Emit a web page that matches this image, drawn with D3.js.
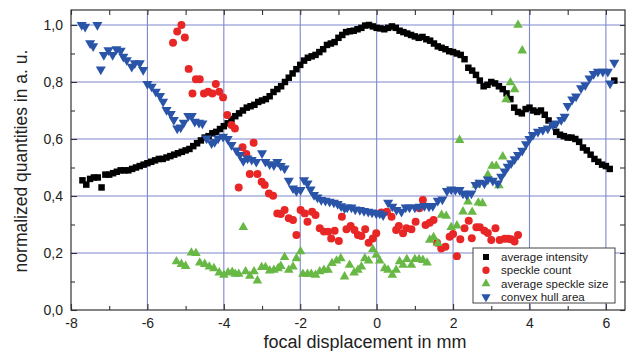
<!doctype html>
<html>
<head>
<meta charset="utf-8">
<script src="https://d3js.org/d3.v7.min.js"></script>
<style>
body { margin: 0; background: #fff; }
text { font-family: "Liberation Sans", Arial, sans-serif; }
</style>
</head>
<body>
<svg width="628" height="351"></svg>
<script>
// data: [focal displacement (mm), normalized value]
var avgIntensity = [
  [-7.7,0.455],[-7.6,0.44],[-7.5,0.46],[-7.4,0.465],[-7.3,0.465],[-7.2,0.43],[-7.1,0.475],[-7.0,0.475],
  [-6.9,0.48],[-6.8,0.485],[-6.7,0.49],[-6.6,0.49],[-6.5,0.49],[-6.4,0.495],[-6.3,0.5],[-6.2,0.505],
  [-6.1,0.51],[-6.0,0.515],[-5.9,0.52],[-5.8,0.525],[-5.7,0.53],[-5.6,0.53],[-5.5,0.535],[-5.4,0.54],
  [-5.3,0.545],[-5.2,0.55],[-5.1,0.555],[-5.0,0.56],[-4.9,0.565],[-4.8,0.575],[-4.7,0.585],[-4.6,0.595],
  [-4.5,0.605],[-4.4,0.61],[-4.3,0.62],[-4.2,0.625],[-4.1,0.635],[-4.0,0.645],[-3.9,0.655],[-3.8,0.67],
  [-3.7,0.68],[-3.6,0.69],[-3.5,0.70],[-3.4,0.71],[-3.3,0.715],[-3.2,0.72],[-3.1,0.73],[-3.0,0.735],
  [-2.9,0.74],[-2.8,0.75],[-2.7,0.765],[-2.6,0.775],[-2.5,0.785],[-2.4,0.80],[-2.3,0.815],[-2.2,0.83],
  [-2.1,0.845],[-2.0,0.86],[-1.9,0.875],[-1.8,0.885],[-1.7,0.89],[-1.6,0.895],[-1.5,0.905],[-1.4,0.915],
  [-1.3,0.93],[-1.2,0.935],[-1.1,0.94],[-1.0,0.955],[-0.9,0.965],[-0.8,0.975],[-0.7,0.978],[-0.6,0.98],
  [-0.5,0.985],[-0.4,0.99],[-0.3,0.998],[-0.2,1.0],[-0.1,0.995],[0.0,0.99],[0.1,0.988],[0.2,0.985],
  [0.3,0.99],[0.4,0.995],[0.5,0.99],[0.6,0.98],[0.7,0.975],[0.8,0.97],[0.9,0.965],[1.0,0.96],
  [1.1,0.955],[1.2,0.958],[1.3,0.95],[1.4,0.945],[1.5,0.935],[1.6,0.925],[1.7,0.92],[1.8,0.915],
  [1.9,0.908],[2.0,0.905],[2.1,0.90],[2.2,0.895],[2.3,0.88],[2.4,0.85],[2.5,0.84],[2.6,0.825],
  [2.7,0.805],[2.8,0.785],[2.9,0.79],[3.0,0.80],[3.1,0.795],[3.2,0.785],[3.3,0.775],[3.4,0.76],
  [3.5,0.74],[3.6,0.71],[3.7,0.695],[3.8,0.69],[3.9,0.705],[4.0,0.71],[4.1,0.70],[4.2,0.695],
  [4.3,0.70],[4.4,0.685],[4.5,0.665],[4.6,0.65],[4.7,0.625],[4.8,0.615],[4.9,0.61],[5.0,0.605],
  [5.1,0.605],[5.2,0.60],[5.3,0.59],[5.4,0.57],[5.5,0.56],[5.6,0.545],[5.7,0.53],[5.8,0.52],
  [5.9,0.51],[6.0,0.505],[6.1,0.495],[6.22,0.805]
];

var speckleCount = [
  [-5.33,0.938],[-5.22,0.977],[-5.11,1.0],[-5.02,0.956],[-4.92,0.846],[-4.82,0.76],[-4.73,0.81],[-4.63,0.81],
  [-4.52,0.76],[-4.41,0.766],[-4.30,0.76],[-4.21,0.793],[-4.12,0.766],[-4.02,0.746],[-3.91,0.684],[-3.80,0.649],
  [-3.71,0.637],[-3.61,0.43],[-3.51,0.571],[-3.41,0.547],[-3.32,0.477],[-3.22,0.587],[-3.12,0.477],[-3.01,0.45],
  [-2.93,0.439],[-2.82,0.409],[-2.71,0.401],[-2.60,0.339],[-2.51,0.337],[-2.41,0.351],[-2.30,0.322],[-2.19,0.316],
  [-2.10,0.263],[-1.99,0.351],[-1.88,0.339],[-1.81,0.31],[-1.69,0.345],[-1.60,0.333],[-1.49,0.287],[-1.38,0.275],
  [-1.27,0.275],[-1.19,0.251],[-1.10,0.278],[-0.99,0.242],[-0.91,0.327],[-0.79,0.283],[-0.68,0.295],[-0.58,0.281],
  [-0.49,0.263],[-0.40,0.26],[-0.30,0.283],[-0.21,0.236],[-0.10,0.251],[-0.01,0.269],[0.12,0.342],[0.27,0.345],
  [0.39,0.327],[0.51,0.281],[0.58,0.295],[0.69,0.269],[0.78,0.287],[0.91,0.283],[1.02,0.31],[1.12,0.357],
  [1.21,0.386],[1.28,0.298],[1.39,0.306],[1.49,0.316],[1.58,0.236],[1.69,0.216],[1.80,0.222],[1.91,0.257],
  [2.0,0.267],[2.10,0.189],[2.19,0.248],[2.30,0.287],[2.41,0.313],[2.49,0.252],[2.61,0.29],[2.70,0.29],
  [2.82,0.278],[2.91,0.27],[3.0,0.246],[3.11,0.287],[3.22,0.246],[3.35,0.25],[3.44,0.25],[3.52,0.248],
  [3.61,0.24],[3.70,0.263]
];

var speckleSize = [
  [-5.24,0.17],[-5.11,0.161],[-5.0,0.154],[-4.85,0.201],[-4.73,0.199],[-4.63,0.166],[-4.5,0.161],[-4.38,0.152],
  [-4.26,0.146],[-4.12,0.131],[-4.0,0.123],[-3.89,0.131],[-3.78,0.133],[-3.70,0.126],[-3.61,0.126],[-3.49,0.29],
  [-3.43,0.135],[-3.32,0.119],[-3.21,0.135],[-3.12,0.103],[-3.01,0.15],[-2.91,0.15],[-2.80,0.138],[-2.69,0.14],
  [-2.58,0.146],[-2.51,0.154],[-2.41,0.185],[-2.30,0.14],[-2.19,0.152],[-2.10,0.181],[-1.99,0.205],[-1.93,0.126],
  [-1.81,0.126],[-1.71,0.126],[-1.60,0.123],[-1.49,0.135],[-1.38,0.14],[-1.27,0.14],[-1.17,0.164],[-1.05,0.173],
  [-0.94,0.181],[-0.84,0.117],[-0.71,0.158],[-0.59,0.131],[-0.49,0.14],[-0.40,0.152],[-0.31,0.181],[-0.21,0.173],
  [-0.10,0.213],[-0.01,0.193],[0.08,0.173],[0.21,0.146],[0.30,0.14],[0.41,0.123],[0.51,0.14],[0.60,0.17],
  [0.69,0.158],[0.79,0.178],[0.91,0.158],[1.0,0.178],[1.11,0.178],[1.21,0.175],[1.32,0.166],[1.39,0.246],
  [1.49,0.255],[1.60,0.234],[1.70,0.333],[1.82,0.33],[1.95,0.29],[2.10,0.296],[2.17,0.596],[2.26,0.345],
  [2.39,0.38],[2.50,0.344],[2.61,0.439],[2.66,0.376],[2.77,0.374],[2.91,0.474],[3.02,0.505],[3.13,0.505],
  [3.20,0.437],[3.30,0.538],[3.39,0.739],[3.50,0.798],[3.61,0.774],[3.70,1.0],[3.81,0.91]
];

var hullArea = [
  [-7.72,1.0],[-7.63,0.994],[-7.5,0.936],[-7.42,0.926],[-7.31,1.0],[-7.22,0.844],[-7.14,0.895],[-7.02,0.912],
  [-6.91,0.895],[-6.81,0.915],[-6.70,0.91],[-6.63,0.889],[-6.54,0.877],[-6.41,0.854],[-6.33,0.866],[-6.20,0.866],
  [-6.11,0.842],[-6.0,0.793],[-5.89,0.784],[-5.78,0.766],[-5.67,0.751],[-5.59,0.731],[-5.50,0.702],[-5.39,0.688],
  [-5.31,0.667],[-5.22,0.637],[-5.13,0.641],[-5.05,0.657],[-4.93,0.681],[-4.84,0.681],[-4.76,0.661],[-4.65,0.657],
  [-4.56,0.655],[-4.45,0.602],[-4.32,0.585],[-4.24,0.59],[-4.15,0.602],[-4.02,0.608],[-3.9,0.6],[-3.80,0.579],
  [-3.67,0.56],[-3.58,0.544],[-3.49,0.523],[-3.38,0.532],[-3.27,0.527],[-3.15,0.52],[-3.0,0.55],[-2.91,0.52],
  [-2.80,0.512],[-2.69,0.508],[-2.60,0.52],[-2.51,0.506],[-2.41,0.497],[-2.30,0.454],[-2.19,0.427],[-2.10,0.418],
  [-1.99,0.421],[-1.90,0.456],[-1.81,0.444],[-1.73,0.423],[-1.64,0.404],[-1.55,0.395],[-1.45,0.386],[-1.34,0.384],
  [-1.23,0.38],[-1.12,0.377],[-1.02,0.372],[-0.93,0.364],[-0.84,0.357],[-0.77,0.36],[-0.66,0.36],[-0.56,0.353],
  [-0.44,0.351],[-0.33,0.348],[-0.22,0.345],[-0.12,0.342],[-0.01,0.339],[0.08,0.339],[0.17,0.333],[0.30,0.377],
  [0.41,0.363],[0.52,0.351],[0.65,0.345],[0.76,0.36],[0.86,0.36],[1.0,0.36],[1.12,0.363],[1.25,0.365],
  [1.37,0.363],[1.47,0.365],[1.60,0.384],[1.72,0.388],[1.84,0.418],[1.95,0.423],[2.06,0.421],[2.17,0.421],
  [2.26,0.409],[2.36,0.404],[2.48,0.409],[2.59,0.439],[2.69,0.447],[2.82,0.444],[2.91,0.458],[3.04,0.454],
  [3.17,0.444],[3.26,0.468],[3.35,0.486],[3.43,0.503],[3.52,0.515],[3.61,0.529],[3.70,0.544],[3.81,0.559],
  [3.91,0.582],[4.0,0.6],[4.09,0.614],[4.22,0.626],[4.35,0.632],[4.48,0.637],[4.61,0.649],[4.70,0.655],
  [4.83,0.667],[4.92,0.678],[5.0,0.716],[5.12,0.739],[5.22,0.749],[5.35,0.778],[5.46,0.789],[5.57,0.813],
  [5.68,0.828],[5.79,0.836],[5.92,0.836],[6.05,0.836],[6.11,0.795],[6.22,0.868]
];

var xTicks = [-8, -6, -4, -2, 0, 2, 4, 6];
var xMinorTicks = [-7, -5, -3, -1, 1, 3, 5];
var yTicks = [0, 0.2, 0.4, 0.6, 0.8, 1.0];
var yMinorTicks = [0.1, 0.3, 0.5, 0.7, 0.9];
var yTickLabels = ["0,0", "0,2", "0,4", "0,6", "0,8", "1,0"];
var legendLabels = ["average intensity", "speckle count", "average speckle size", "convex hull area"];

var svg = d3.select("svg"),
    mLeft = 71, mTop = 10, mRight = 625, mBottom = 310;

var xScale = d3.scaleLinear().domain([-8, 6.5]).range([mLeft, mRight]),
    yScale = d3.scaleLinear().domain([0, 1.0526]).range([mBottom, mTop]);

var gridColor = "#7f86cc";

// grid
svg.append("g").selectAll("line").data(xTicks.slice(1)).enter().append("line")
  .attr("x1", function(d) { return xScale(d); }).attr("x2", function(d) { return xScale(d); })
  .attr("y1", mTop).attr("y2", mBottom)
  .style("stroke", gridColor).style("stroke-width", 1.1);
svg.append("g").selectAll("line").data(yTicks.slice(1)).enter().append("line")
  .attr("x1", mLeft).attr("x2", mRight)
  .attr("y1", function(d) { return yScale(d); }).attr("y2", function(d) { return yScale(d); })
  .style("stroke", gridColor).style("stroke-width", 1.1);

// axes, ticks point inward on all four sides
function styleAxis(g) {
  g.select(".domain").remove();
  g.selectAll(".tick line").style("stroke", "#333").style("stroke-width", 1.1);
  g.selectAll("text").style("font-size", "14px").style("fill", "#222");
}

svg.append("g").attr("transform", "translate(0," + mBottom + ")")
  .call(d3.axisBottom(xScale).tickValues(xTicks).tickSize(-6).tickPadding(8)
    .tickFormat(function(d) { return String(d); }))
  .call(styleAxis);
svg.append("g").attr("transform", "translate(0," + mBottom + ")")
  .call(d3.axisBottom(xScale).tickValues(xMinorTicks).tickSize(-4).tickFormat(""))
  .call(styleAxis);
svg.append("g").attr("transform", "translate(0," + mTop + ")")
  .call(d3.axisTop(xScale).tickValues(xTicks.concat(xMinorTicks)).tickSize(-5).tickFormat(""))
  .call(styleAxis);

svg.append("g").attr("transform", "translate(" + mLeft + ",0)")
  .call(d3.axisLeft(yScale).tickValues(yTicks).tickSize(-6).tickPadding(8)
    .tickFormat(function(d, i) { return yTickLabels[i]; }))
  .call(styleAxis);
svg.append("g").attr("transform", "translate(" + mLeft + ",0)")
  .call(d3.axisLeft(yScale).tickValues(yMinorTicks).tickSize(-4).tickFormat(""))
  .call(styleAxis);
svg.append("g").attr("transform", "translate(" + mRight + ",0)")
  .call(d3.axisRight(yScale).tickValues(yTicks.concat(yMinorTicks)).tickSize(-5).tickFormat(""))
  .call(styleAxis);

// frame
svg.append("rect")
  .attr("x", mLeft).attr("y", mTop).attr("width", mRight - mLeft).attr("height", mBottom - mTop)
  .style("fill", "none").style("stroke", "#333").style("stroke-width", 1.2);

// series
var series = [
  { data: avgIntensity, color: "#000000", shape: d3.symbolSquare, size: 42, rot: 0 },
  { data: speckleCount, color: "#e82626", shape: d3.symbolCircle, size: 50, rot: 0 },
  { data: speckleSize, color: "#68b846", shape: d3.symbolTriangle, size: 40, rot: 0 },
  { data: hullArea, color: "#2a54a8", shape: d3.symbolTriangle, size: 44, rot: 180 }
];

series.forEach(function(s) {
  svg.append("g").selectAll("path").data(s.data).enter().append("path")
    .attr("d", d3.symbol().type(s.shape).size(s.size))
    .attr("transform", function(d) {
      return "translate(" + xScale(d[0]) + "," + yScale(d[1]) + ") rotate(" + s.rot + ")";
    })
    .style("fill", s.color);
});

// legend
var lg = svg.append("g");
lg.append("rect").attr("x", 473).attr("y", 248).attr("width", 142).attr("height", 55)
  .style("fill", "#fff").style("stroke", "#444").style("stroke-width", 1);
series.forEach(function(s, i) {
  var yy = 257 + i * 13.3;
  lg.append("path")
    .attr("d", d3.symbol().type(s.shape).size(s.size * 0.85))
    .attr("transform", "translate(486," + yy + ") rotate(" + s.rot + ")")
    .style("fill", s.color);
  lg.append("text").attr("x", 501).attr("y", yy + 4)
    .style("font-size", "11.5px").style("fill", "#222")
    .text(legendLabels[i]);
});

// axis titles
svg.append("text")
  .attr("x", 365).attr("y", 348)
  .attr("text-anchor", "middle")
  .style("font-size", "18px").style("fill", "#222")
  .text("focal displacement in mm");

svg.append("text")
  .attr("text-anchor", "middle")
  .attr("transform", "translate(27,161)rotate(-90)")
  .style("font-size", "17.5px").style("fill", "#222")
  .text("normalized quantities in a. u.");
</script>
</body>
</html>
